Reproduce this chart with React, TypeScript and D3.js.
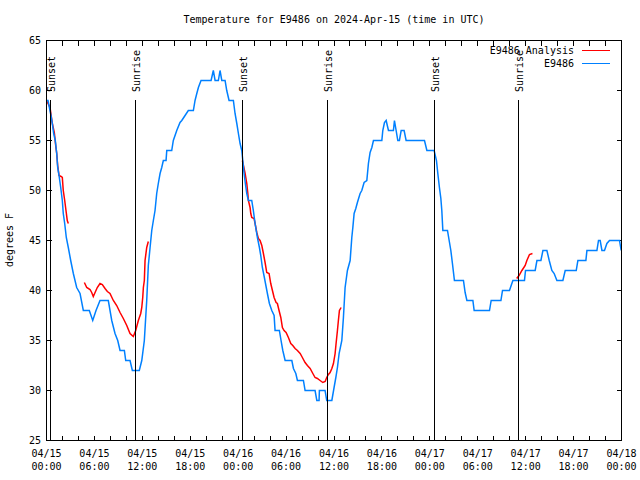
import React from "react";
import * as d3 from "d3";

const title = "Temperature for E9486 on 2024-Apr-15 (time in UTC)";
const yAxisLabel = "degrees F";
const seriesNames = ["E9486 Analysis", "E9486"];
const seriesColors = ["#ff0000", "#0080ff"];
const startUTC = Date.UTC(2024, 3, 15, 0, 0);
const endUTC = Date.UTC(2024, 3, 18, 0, 0);
const yTickValues = [25, 30, 35, 40, 45, 50, 55, 60, 65];

// Observed station temperature (E9486): hours since 04/15 00:00 UTC, degrees F
const obsHours = [
  0, 0.19, 0.56, 0.73, 0.9, 1.1, 1.28, 1.4, 1.57, 1.78, 1.98, 2.1, 2.28, 2.48, 2.73, 3.03, 3.36, 3.78, 4.2, 4.61,
  5.36, 5.79, 6.2, 6.7, 7.74, 8.17, 8.58, 8.92, 9.21, 9.75, 9.92, 10.46, 10.75, 11.62, 11.93, 12.25, 12.55, 12.75,
  12.97, 13.18, 13.38, 13.59, 13.8, 14.0, 14.22, 14.43, 14.63, 14.97, 15.06, 15.68, 15.88, 16.31, 16.72, 16.94,
  17.35, 17.76, 18.39, 18.6, 18.82, 19.02, 19.35, 20.61, 20.89, 21.11, 21.52, 21.73, 21.95, 22.36, 22.57, 22.86,
  23.4, 23.61, 23.83, 24.03, 24.24, 24.45, 24.58, 24.74, 24.9, 25.08, 25.28, 25.7, 25.9, 26.12, 26.41, 26.66,
  26.83, 27.03, 27.28, 27.66, 27.91, 28.21, 28.5, 28.62, 29.16, 29.37, 29.59, 29.88, 30.72, 30.92, 31.22, 31.42,
  32.17, 32.38, 33.63, 33.85, 34.13, 34.17, 34.88, 35.09, 35.73, 36.01, 36.23, 36.43, 36.64, 36.98, 37.18, 37.39,
  37.68, 38.02, 38.23, 38.36, 38.52, 38.73, 38.93, 39.27, 39.48, 39.77, 40.11, 40.31, 40.52, 40.74, 40.94, 41.99,
  42.11, 42.32, 42.53, 42.82, 43.44, 43.57, 43.78, 43.99, 44.19, 44.41, 44.78, 45.03, 47.33, 47.63, 48.54, 48.83,
  49.0, 49.2, 49.38, 49.5, 49.63, 50.21, 50.42, 50.63, 50.83, 51.08, 52.21, 52.42, 52.64, 53.39, 53.55, 55.47,
  55.68, 56.9, 57.1, 57.97, 58.4, 59.85, 59.98, 61.19, 61.41, 61.91, 62.16, 62.66, 62.95, 63.28, 63.57, 63.91,
  64.66, 64.95, 66.33, 66.54, 67.54, 67.67, 68.92, 69.12, 69.33, 69.55, 69.87, 70.17, 70.5, 71.75, 71.96,
];
const obsTemps = [
  59, 59, 57.5, 56.7, 55.7, 55, 53.7, 52.3, 51.5, 50.3, 49, 47.7, 46.7, 45.3, 44.3, 43, 41.7, 40.3, 39.7, 38,
  38, 37, 38, 39, 39, 37, 35.7, 35, 34, 34, 33, 33, 32, 32, 33, 35, 39, 42.5,
  44.3, 46, 47, 48, 49.7, 50.7, 51.7, 52.3, 53, 53, 54, 54, 55, 56, 56.8, 57,
  57.5, 58, 58, 59, 59.7, 60.3, 61, 61, 62, 61, 61, 62, 61, 61, 60, 59,
  59, 57.7, 56.7, 55.7, 54.7, 54, 53, 51.7, 50.7, 49.7, 49, 49, 48, 46.7, 45.3, 44.3,
  43.5, 42.3, 41.3, 39.7, 38.7, 38, 37.5, 36, 36, 35, 34, 33, 33, 32.2, 31.7, 31,
  31, 30, 30, 29, 29, 30, 30, 29, 29, 30.3, 31.3, 32.3, 33.7, 35, 37.3, 40.3,
  42, 43, 45.3, 46.3, 47.7, 48.2, 48.8, 49.7, 50, 50.8, 51, 52.7, 53.8, 54.3, 55, 55,
  56, 56.8, 57, 56, 56, 57, 56, 55, 55, 56, 56, 55, 55, 54, 54, 53,
  51.7, 50.3, 49.2, 48, 46, 46, 45, 44, 42.7, 41, 41, 39.8, 39, 39, 38, 38,
  39, 39, 40, 40, 41, 41, 42, 42, 43, 43, 44, 44, 43, 42, 41.7, 41,
  41, 42, 42, 43, 43, 44, 44, 45, 45, 44, 44, 44.7, 45, 45, 44,
];

// Analysis temperature (E9486 Analysis): null marks a gap in the record
const anaHours = [
  0, 0.44, 0.73, 0.98, 1.15, 1.28, 1.4, 1.57, 1.82, 1.98, 2.1, 2.28, 2.44, 2.6, 2.73, null,
  4.74, 5.04, 5.45, 5.66, 5.86, 6.08, 6.36, 6.7, 6.99, 7.33, 7.62, 7.95, 8.37, 8.79, 9.21, 9.62, 10.05, 10.46,
  10.87, 11.17, 11.5, 11.8, 11.93, 12.05, 12.13, 12.25, 12.34, 12.55, 12.75, null,
  24.53, 24.87, 25.08, 25.21, 25.28, 25.49, 25.58, 25.7, 25.99, 26.12, 26.33, 26.53, 26.74, 26.96, 27.16, 27.37,
  27.58, 27.87, 28.08, 28.29, 28.5, 28.75, 28.91, 29.12, 29.34, 29.54, 29.75, 30.0, 30.29, 30.59, 30.84, 31.13,
  31.42, 31.76, 32.04, 32.38, 32.67, 33.01, 33.35, 33.63, 33.92, 34.26, 34.6, 34.89, 35.09, 35.3, 35.51, 35.73,
  35.93, 36.14, 36.26, 36.43, 36.55, 36.68, 36.89, null,
  58.88, 59.17, 59.53, 59.94, 60.15, 60.48, 60.85,
];
const anaTemps = [
  59, 58.3, 56.7, 55.8, 54.5, 53.7, 52.5, 51.5, 51.4, 51.3, 50, 49, 48, 47, 46.7, null,
  40.8, 40.3, 40.1, 39.8, 39.4, 39.8, 40.3, 40.7, 40.6, 40.2, 39.9, 39.7, 39, 38.5, 37.8, 37.2, 36.5, 35.7,
  35.4, 36, 37, 37.7, 38.3, 39.3, 40.3, 41, 43, 44.3, 44.9, null,
  53, 51.7, 50.7, 49.7, 49, 48.3, 47.7, 47.3, 47.2, 46.7, 45.8, 45.2, 45, 44.5, 43.7, 42.8,
  41.8, 41.7, 40.7, 40, 39.3, 38.8, 38.7, 38, 37.3, 36.3, 36, 35.8, 35.3, 34.7, 34.5, 34.2,
  34, 33.7, 33.3, 32.8, 32.5, 32.2, 31.7, 31.3, 31.2, 31, 30.8, 30.9, 31.3, 31.6, 31.8, 32.2,
  32.7, 33.7, 34.7, 36, 37, 38, 38.3, null,
  41.2, 41.5, 42, 42.5, 43, 43.6, 43.7,
];

const sunHours = [0.48, 11.13, 24.54, 35.24, 48.6, 59.13];
const sunLabels = ["Sunset", "Sunrise", "Sunset", "Sunrise", "Sunset", "Sunrise"];

const FONT = "'DejaVu Sans Mono', 'Liberation Mono', monospace";
const HOUR = 3600 * 1000;

export default function App() {
  const W = 640;
  const H = 480;
  const left = 46.5;
  const right = 621.5;
  const top = 40.5;
  const bottom = 440.5;

  const x = d3
    .scaleUtc()
    .domain([new Date(startUTC), new Date(endUTC)])
    .range([left, right]);
  const y = d3.scaleLinear().domain([25, 65]).range([bottom, top]);

  const toDate = (h: number) => new Date(startUTC + h * HOUR);

  type P = { t: Date; v: number } | null;
  const obs: P[] = obsHours.map((h, i) => ({ t: toDate(h), v: obsTemps[i] }));
  const ana: P[] = anaHours.map((h, i) =>
    h === null || anaTemps[i] === null ? null : { t: toDate(h as number), v: anaTemps[i] as number }
  );

  const line = d3
    .line<P>()
    .defined((d) => d !== null)
    .x((d) => x((d as any).t))
    .y((d) => y((d as any).v));

  const minorTicks = x.ticks(d3.utcHour.every(2) as any);
  const labelTicks = x.ticks(d3.utcHour.every(6) as any);
  const fmtDay = d3.utcFormat("%m/%d");
  const fmtTime = d3.utcFormat("%H:%M");
  const snap = (v: number) => Math.round(v - 0.5) + 0.5;

  const tickLen = 5;
  const lineTop = y(59.1);

  return (
    <svg
      width={W}
      height={H}
      style={{ position: "absolute", left: 0, top: 0, background: "#fff" }}
      fontFamily={FONT}
      fontSize={10}
    >
      <rect x={0} y={0} width={W} height={H} fill="#fff" />

      {/* ticks */}
      <g stroke="#000" strokeWidth={1} shapeRendering="crispEdges">
        {minorTicks.map((t, i) => {
          const xx = snap(x(t));
          return (
            <g key={"xt" + i}>
              <line x1={xx} x2={xx} y1={bottom} y2={bottom - tickLen} />
              <line x1={xx} x2={xx} y1={top} y2={top + tickLen} />
            </g>
          );
        })}
        {yTickValues.map((v, i) => {
          const yy = snap(y(v));
          return (
            <g key={"yt" + i}>
              <line x1={left} x2={left + tickLen} y1={yy} y2={yy} />
              <line x1={right} x2={right - tickLen} y1={yy} y2={yy} />
            </g>
          );
        })}
      </g>

      {/* y tick labels */}
      {yTickValues.map((v, i) => (
        <text key={"yl" + i} x={41} y={y(v) + 3.5} textAnchor="end" fill="#000">
          {v}
        </text>
      ))}

      {/* x tick labels */}
      {labelTicks.map((t, i) => (
        <g key={"xl" + i}>
          <text x={x(t)} y={457} textAnchor="middle" fill="#000">
            {fmtDay(t)}
          </text>
          <text x={x(t)} y={470} textAnchor="middle" fill="#000">
            {fmtTime(t)}
          </text>
        </g>
      ))}

      {/* y axis label */}
      <text
        transform={`translate(13,240) rotate(-90)`}
        textAnchor="middle"
        fill="#000"
      >
        {yAxisLabel}
      </text>

      {/* title */}
      <text x={(left + right) / 2} y={23} textAnchor="middle" fill="#000">
        {title}
      </text>

      {/* data */}
      <path d={line(ana) || ""} fill="none" stroke={seriesColors[0]} strokeWidth={1.5} />
      <path d={line(obs) || ""} fill="none" stroke={seriesColors[1]} strokeWidth={1.5} />

      {/* sunrise / sunset markers */}
      {sunHours.map((h, i) => {
        const xx = snap(x(toDate(h)));
        return (
          <g key={"sun" + i}>
            <line
              x1={xx}
              x2={xx}
              y1={lineTop}
              y2={bottom}
              stroke="#000"
              strokeWidth={1}
              shapeRendering="crispEdges"
            />
            <text
              transform={`translate(${xx + 4.5},92) rotate(-90)`}
              textAnchor="start"
              fill="#000"
            >
              {sunLabels[i]}
            </text>
          </g>
        );
      })}

      {/* frame */}
      <rect
        x={left}
        y={top}
        width={right - left}
        height={bottom - top}
        fill="none"
        stroke="#000"
        strokeWidth={1}
        shapeRendering="crispEdges"
      />

      {/* legend */}
      {seriesNames.map((name, i) => {
        const ly = 50.5 + i * 13;
        return (
          <g key={"lg" + i}>
            <text x={574} y={ly + 3.5} textAnchor="end" fill="#000">
              {name}
            </text>
            <line
              x1={582}
              x2={610}
              y1={ly}
              y2={ly}
              stroke={seriesColors[i]}
              strokeWidth={1.5}
              shapeRendering="crispEdges"
            />
          </g>
        );
      })}
    </svg>
  );
}
